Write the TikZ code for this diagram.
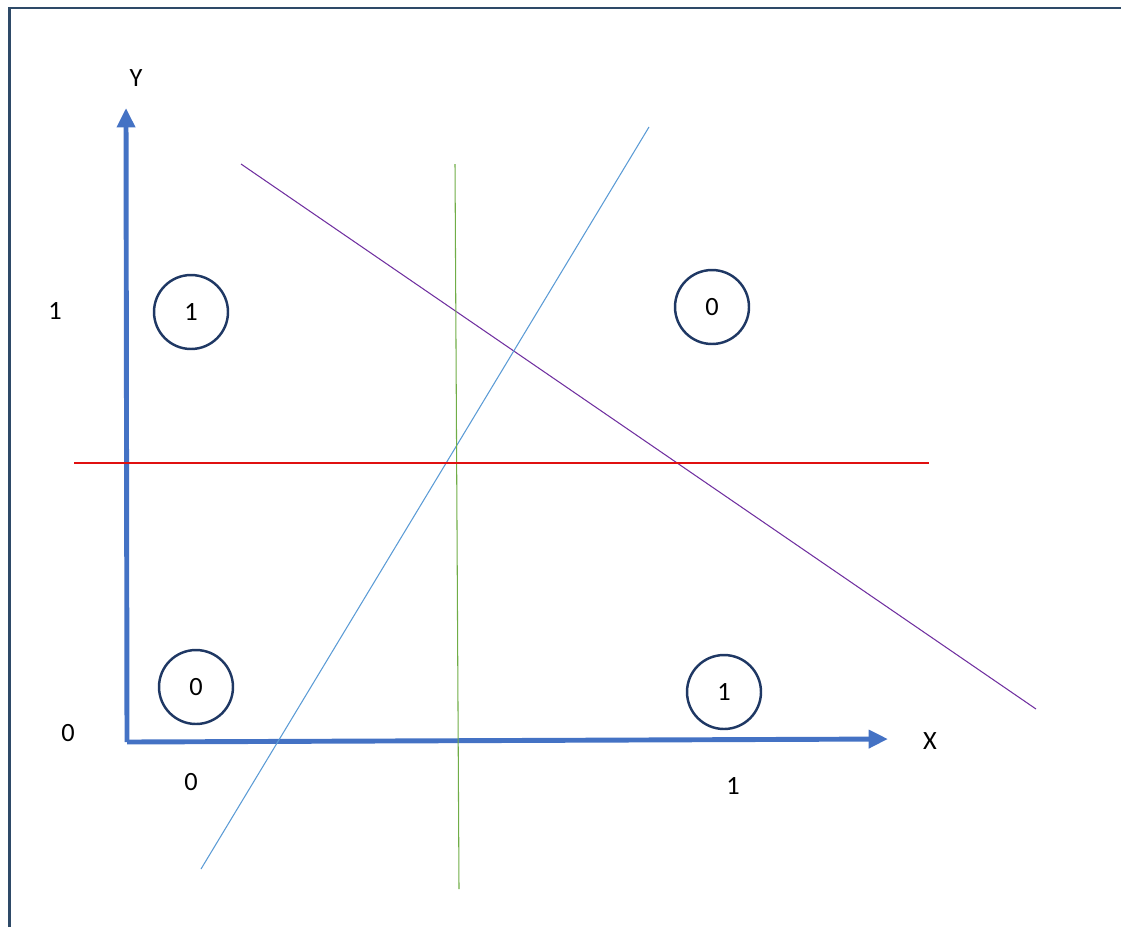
\documentclass[tikz,border=0pt]{standalone}
\usepackage{fontspec}
\setmainfont{Carlito}
\usetikzlibrary{arrows.meta}

\definecolor{frameblue}{HTML}{2E4A68}
\definecolor{axisblue}{HTML}{4472C4}
\definecolor{ringblue}{HTML}{1F3864}
\definecolor{lineblue}{HTML}{5B9BD5}
\definecolor{linepurple}{HTML}{7030A0}
\definecolor{linegreen}{HTML}{70AD47}
\definecolor{linered}{HTML}{E01010}

\begin{document}
\begin{tikzpicture}[
x=0.02cm, y=-0.02cm,
every node/.style={font=\fontsize{15}{18}\selectfont},
axis/.style={-{Triangle[length=11pt,width=10pt]}, line width=2.8pt, axisblue},
ring/.style={
draw=ringblue,
circle,
line width=1.4pt,
minimum size=1.48cm,
inner sep=0pt
},
border/.style={draw=frameblue, line width=1.2pt},
cut/.style={line width=0.6pt}
]
\useasboundingbox (0,0) rectangle (1121,927);

% Frame
\draw[border] (9.5,927) -- (9.5,8) -- (1121,8);

% Axes
\coordinate (origin) at (127,742);
\coordinate (ytop) at (126,108);
\coordinate (xend) at (888,739);
\draw[axis] (origin) -- (ytop);
\draw[axis] (origin) -- (xend);
\node (ylab) at (136,78) {Y};
\node (xlab) at (930,741) {X};

% Tick labels
\node (yone) at (55,311) {1};
\node (yzero) at (68,733) {0};
\node (xzero) at (191,782) {0};
\node (xone) at (733,786) {1};

% Points
\node[ring] (p01) at (191,312) {1};
\node[ring] (p11) at (712,307) {0};
\node[ring] (p00) at (196,687) {0};
\node[ring] (p10) at (724,692) {1};

% Separating lines
\coordinate (pa) at (241,164);
\coordinate (pb) at (1036,709);
\coordinate (ba) at (201,869);
\coordinate (bb) at (649,127);
\coordinate (ga) at (455,164);
\coordinate (gb) at (459,889);
\coordinate (ra) at (74,463);
\coordinate (rb) at (929,463);
\draw[cut, linepurple] (pa) -- (pb);
\draw[cut, lineblue] (ba) -- (bb);
\draw[cut, linegreen] (ga) -- (gb);
\draw[cut, linered] (ra) -- (rb);

\end{tikzpicture}
\end{document}
